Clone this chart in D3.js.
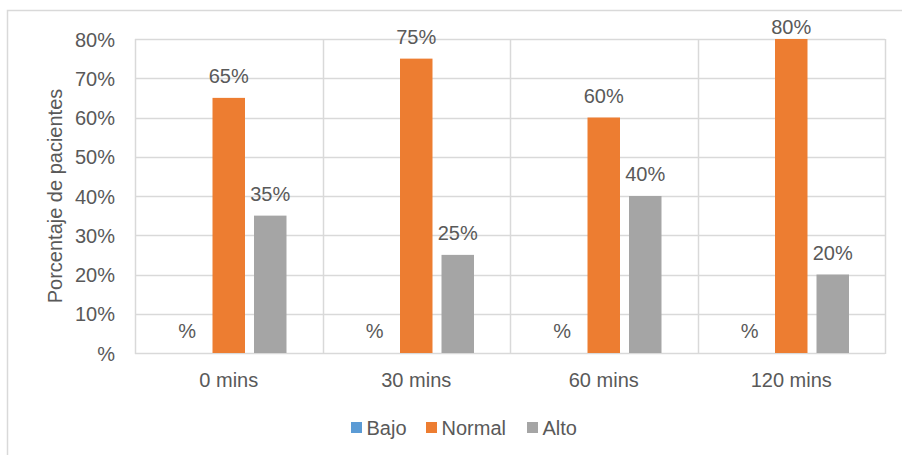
<!DOCTYPE html>
<html>
<head>
<meta charset="utf-8">
<script src="https://cdn.jsdelivr.net/npm/d3@7"></script>
<style>
  html, body { margin: 0; padding: 0; background: #fff; }
  svg { display: block; font-family: "Liberation Sans", Arial, sans-serif; }
</style>
</head>
<body>
<svg id="chart" width="902" height="455"></svg>
<script>
// Chart data
const categories = ["0 mins", "30 mins", "60 mins", "120 mins"];
const seriesNames = ["Bajo", "Normal", "Alto"];
const bajo   = [0, 0, 0, 0];
const normal = [65, 75, 60, 80];
const alto   = [35, 25, 40, 20];
const yTicks = [0, 10, 20, 30, 40, 50, 60, 70, 80];
const yTitle = "Porcentaje de pacientes";

const colors = { Bajo: "#5B9BD5", Normal: "#ED7D31", Alto: "#A5A5A5" };
const values = { Bajo: bajo, Normal: normal, Alto: alto };

// "#%" style formatting: zero shows only the percent sign
const fmt = v => (v === 0 ? "%" : v + "%");

const svg = d3.select("#chart");
const W = 902, H = 455;
const plot = { left: 135, right: 885, top: 39, bottom: 353 };
const textColor = "#595959";
const gridColor = "#D9D9D9";
const fontSize = 20;

// Outer chart frame
svg.append("rect")
  .attr("x", 7.5).attr("y", 10.5)
  .attr("width", W + 10).attr("height", H + 10)
  .attr("fill", "#fff").attr("stroke", gridColor).attr("stroke-width", 1.5);

const x0 = d3.scaleBand().domain(categories).range([plot.left, plot.right]).padding(0);
const groupPad = 31.5;
const x1 = d3.scaleBand().domain(seriesNames)
  .range([groupPad, x0.bandwidth() - groupPad])
  .paddingInner(0.217).paddingOuter(0.1085);
const y = d3.scaleLinear().domain([0, 80]).range([plot.bottom, plot.top]);

// Horizontal gridlines
svg.append("g").selectAll("line").data(yTicks).join("line")
  .attr("x1", plot.left).attr("x2", plot.right)
  .attr("y1", d => Math.round(y(d)) + 0.5).attr("y2", d => Math.round(y(d)) + 0.5)
  .attr("stroke", gridColor).attr("stroke-width", 1.5);

// Vertical gridlines at category boundaries
const bounds = categories.map(c => x0(c)).concat([plot.right]);
svg.append("g").selectAll("line").data(bounds).join("line")
  .attr("x1", d => Math.round(d) + 0.5).attr("x2", d => Math.round(d) + 0.5)
  .attr("y1", plot.top).attr("y2", plot.bottom + 1)
  .attr("stroke", gridColor).attr("stroke-width", 1.5);

// Y axis tick labels
const yAxis = d3.axisLeft(y).tickValues(yTicks).tickFormat(fmt).tickSize(0).tickPadding(20);
const gy = svg.append("g").attr("transform", `translate(${plot.left},0)`).call(yAxis);
gy.select(".domain").remove();
gy.selectAll("text")
  .attr("fill", textColor).attr("font-size", fontSize)
  .attr("font-family", "'Liberation Sans', Arial, sans-serif")
  .attr("dy", "0.36em");

// X axis category labels
const xAxis = d3.axisBottom(x0).tickSize(0).tickPadding(20);
const gx = svg.append("g").attr("transform", `translate(0,${plot.bottom})`).call(xAxis);
gx.select(".domain").remove();
gx.selectAll("text")
  .attr("fill", textColor).attr("font-size", fontSize)
  .attr("font-family", "'Liberation Sans', Arial, sans-serif")
  .attr("dy", "0.71em");

// Bars
const rows = [];
categories.forEach((c, i) => seriesNames.forEach(s => rows.push({ cat: c, series: s, value: values[s][i] })));

svg.append("g").selectAll("rect").data(rows.filter(d => d.value > 0)).join("rect")
  .attr("x", d => x0(d.cat) + x1(d.series))
  .attr("y", d => y(d.value))
  .attr("width", x1.bandwidth())
  .attr("height", d => y(0) - y(d.value))
  .attr("fill", d => colors[d.series]);

// Data labels
svg.append("g").selectAll("text").data(rows).join("text")
  .attr("x", d => x0(d.cat) + x1(d.series) + x1.bandwidth() / 2)
  .attr("y", d => Math.max(y(d.value) - 15, 34))
  .attr("text-anchor", "middle")
  .attr("fill", textColor).attr("font-size", fontSize)
  .text(d => fmt(d.value));

// Y axis title
svg.append("text")
  .attr("transform", `translate(62,${(plot.top + plot.bottom) / 2}) rotate(-90)`)
  .attr("text-anchor", "middle")
  .attr("fill", textColor).attr("font-size", fontSize)
  .text(yTitle);

// Legend
const legendItems = [
  { name: "Bajo", sx: 351 },
  { name: "Normal", sx: 426 },
  { name: "Alto", sx: 527 }
];
const lg = svg.append("g");
legendItems.forEach(it => {
  lg.append("rect").attr("x", it.sx).attr("y", 422).attr("width", 11).attr("height", 11)
    .attr("fill", colors[it.name]);
  lg.append("text").attr("x", it.sx + 15.5).attr("y", 434.5)
    .attr("fill", textColor).attr("font-size", fontSize)
    .text(it.name);
});
</script>
</body>
</html>
